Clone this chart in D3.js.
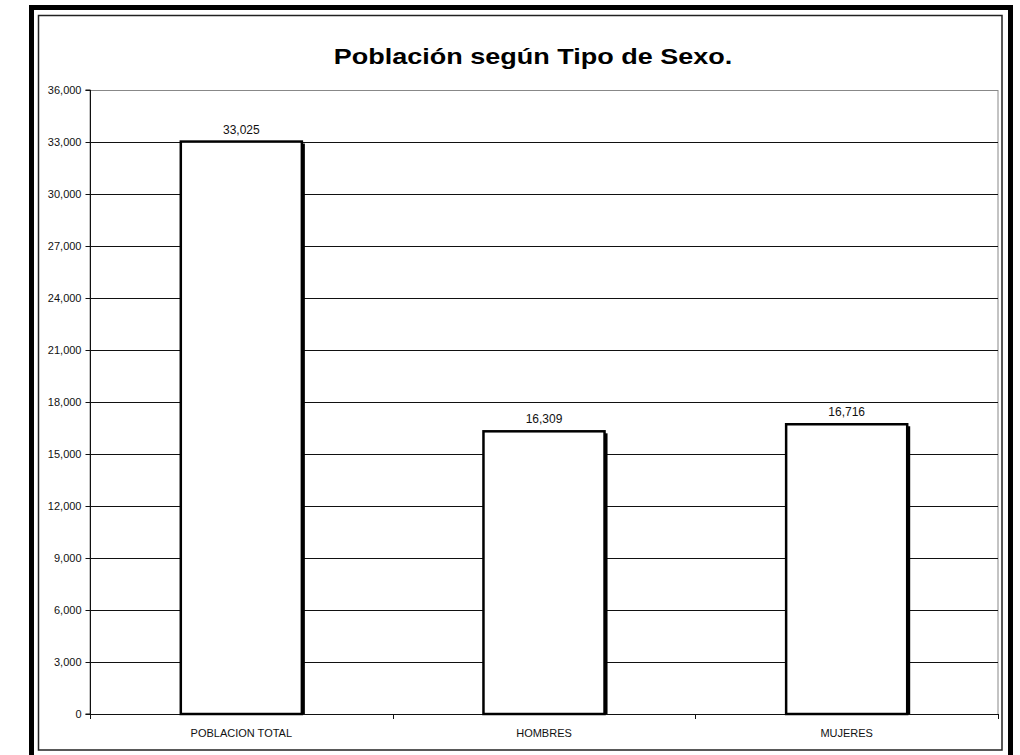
<!DOCTYPE html>
<html>
<head>
<meta charset="utf-8">
<title>Población según Tipo de Sexo</title>
<script src="https://d3js.org/d3.v7.min.js"></script>
<style>
  body { margin: 0; background: #fff; }
  svg { display: block; font-family: "Liberation Sans", Arial, sans-serif; }
</style>
</head>
<body>
<div id="chart"></div>
<script>
  var categories = ['POBLACION TOTAL', 'HOMBRES', 'MUJERES'];
  var values = [33025, 16309, 16716];
  var yTicks = [0, 3000, 6000, 9000, 12000, 15000, 18000, 21000, 24000, 27000, 30000, 33000, 36000];

  var width = 1020, height = 755;
  var plotLeft = 90, plotRight = 998, plotTop = 90, plotBottom = 714;

  var svg = d3.select('#chart').append('svg')
    .attr('width', width)
    .attr('height', height);

  // outer frames
  svg.append('rect')
    .attr('x', 31.5).attr('y', 7.5)
    .attr('width', 979).attr('height', 760)
    .attr('fill', 'none').attr('stroke', 'black').attr('stroke-width', 5);
  svg.append('rect')
    .attr('x', 38.5).attr('y', 15.5)
    .attr('width', 963.5).attr('height', 734.5)
    .attr('fill', 'white').attr('stroke', '#222').attr('stroke-width', 1.5);

  // title, stretched a bit horizontally like the original
  svg.append('text')
    .attr('transform', 'translate(533,64) scale(1.2,1)')
    .attr('text-anchor', 'middle')
    .attr('font-size', 22.5).attr('font-weight', 'bold')
    .text('Población según Tipo de Sexo.');

  var x = d3.scaleBand().domain(categories).range([plotLeft, plotRight]).paddingInner(0.6).paddingOuter(0.3);
  var y = d3.scaleLinear().domain([0, 36000]).range([plotBottom, plotTop]);

  // plot border
  svg.append('rect')
    .attr('x', plotLeft).attr('y', plotTop + 0.5)
    .attr('width', plotRight - plotLeft).attr('height', plotBottom - plotTop)
    .attr('fill', 'none').attr('stroke', '#888').attr('stroke-width', 1);

  // gridlines
  svg.selectAll('.grid')
    .data(yTicks.filter(function(d){ return d > 0 && d < 36000; }))
    .enter().append('line')
    .attr('x1', plotLeft).attr('x2', plotRight)
    .attr('y1', function(d){ return Math.round(y(d)) + 0.5; })
    .attr('y2', function(d){ return Math.round(y(d)) + 0.5; })
    .attr('stroke', '#111').attr('stroke-width', 1);

  // y axis
  var yAxis = svg.append('g')
    .attr('transform', 'translate(' + (plotLeft + 0.5) + ',0)')
    .call(d3.axisLeft(y).tickValues(yTicks).tickSize(5).tickPadding(4).tickFormat(d3.format(',')));
  yAxis.selectAll('text').attr('font-size', 11).attr('fill', '#111').attr('font-family', '"Liberation Sans", Arial, sans-serif');
  yAxis.selectAll('line, path').attr('stroke', '#111');
  yAxis.select('.domain').attr('d', 'M-5,' + plotTop + 'H0V' + plotBottom + 'H-5');

  // x axis
  var xBounds = d3.range(categories.length + 1).map(function(i){ return plotLeft + i * (plotRight - plotLeft) / categories.length; });
  svg.append('line')
    .attr('x1', plotLeft).attr('x2', plotRight)
    .attr('y1', plotBottom + 0.5).attr('y2', plotBottom + 0.5)
    .attr('stroke', '#111');
  svg.selectAll('.xtick')
    .data(xBounds)
    .enter().append('line')
    .attr('x1', function(d){ return Math.round(d) + 0.5; })
    .attr('x2', function(d){ return Math.round(d) + 0.5; })
    .attr('y1', plotBottom).attr('y2', plotBottom + 5)
    .attr('stroke', '#111');
  svg.selectAll('.xlabel')
    .data(categories)
    .enter().append('text')
    .attr('x', function(d){ return x(d) + x.bandwidth() / 2; })
    .attr('y', 737)
    .attr('text-anchor', 'middle')
    .attr('font-size', 11).attr('fill', '#111')
    .text(function(d){ return d; });

  // bars with shadowed right edge
  var bars = svg.selectAll('.bar')
    .data(values)
    .enter().append('g');
  bars.append('rect')
    .attr('x', function(d, i){ return x(categories[i]) + 3; })
    .attr('y', function(d){ return y(d) + 2; })
    .attr('width', x.bandwidth())
    .attr('height', function(d){ return plotBottom - y(d) - 2; })
    .attr('fill', 'black');
  bars.append('rect')
    .attr('x', function(d, i){ return x(categories[i]); })
    .attr('y', function(d){ return y(d); })
    .attr('width', x.bandwidth())
    .attr('height', function(d){ return plotBottom - y(d); })
    .attr('fill', 'white').attr('stroke', 'black').attr('stroke-width', 2.5);

  bars.append('text')
    .attr('x', function(d, i){ return x(categories[i]) + x.bandwidth() / 2; })
    .attr('y', function(d){ return y(d) - 8; })
    .attr('text-anchor', 'middle')
    .attr('font-size', 12).attr('fill', '#111')
    .text(function(d){ return d3.format(',')(d); });
</script>
</body>
</html>
